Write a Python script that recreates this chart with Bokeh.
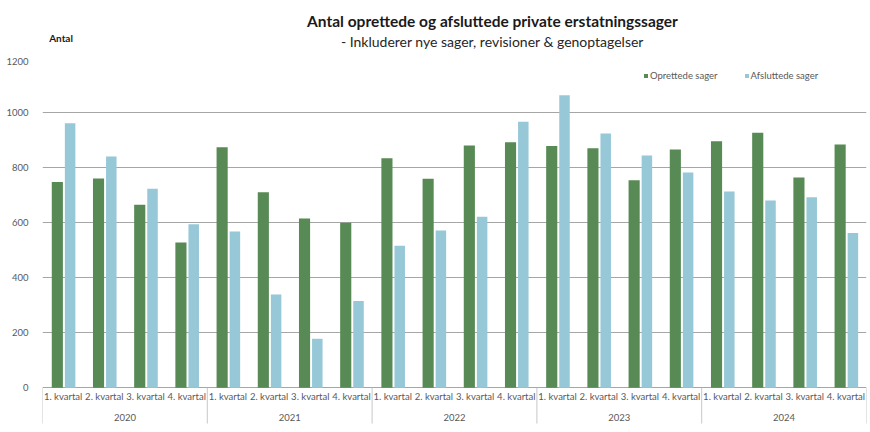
from bokeh.plotting import figure
from bokeh.layouts import column
from bokeh.models import FactorRange, Range1d, FixedTicker, ColumnDataSource
from bokeh.transform import dodge
from bokeh.core.properties import value
from bokeh.embed import file_html
from bokeh.resources import INLINE

years = ["2020", "2021", "2022", "2023", "2024"]
quarters = ["1. kvartal", "2. kvartal", "3. kvartal", "4. kvartal"]
oprettede = [748, 760, 665, 528, 874, 710, 615, 600, 834, 759, 880, 892,
             878, 870, 754, 866, 896, 927, 764, 884]
afsluttede = [961, 840, 723, 594, 568, 339, 178, 315, 516, 571, 621, 967,
              1063, 924, 844, 782, 713, 680, 692, 562]
y_ticks = [0, 200, 400, 600, 800, 1000, 1200]
title_text = "Antal oprettede og afsluttede private erstatningssager"
subtitle_text = "- Inkluderer nye sager, revisioner & genoptagelser"
y_label = "Antal"
series_names = ["Oprettede sager", "Afsluttede sager"]

FONT = "Lato"
GREEN = "#578A55"
BLUE = "#96C8D8"
GRID = "#A6A6A6"
TXT = "#595959"
DARK = "#1a1a1a"

# ---------- header (title, subtitle, y-axis caption) ----------
hdr = figure(width=868, height=57, x_range=Range1d(0, 868), y_range=Range1d(57, 0),
             output_backend="svg", toolbar_location=None, title=None,
             x_axis_location=None, y_axis_location=None, min_border=0)
hdr.outline_line_color = None
hdr.xgrid.visible = False
hdr.ygrid.visible = False
hdr.text(x=[474], y=[20], text=[title_text], text_font=value(FONT), text_font_size="15.5px",
         text_font_style="bold", text_color=DARK, text_align="center", text_baseline="middle")
hdr.text(x=[474], y=[41], text=[subtitle_text], text_font=value(FONT), text_font_size="14px",
         text_color="#262626", text_align="center", text_baseline="middle")
hdr.text(x=[7], y=[37], text=[y_label], text_font=value(FONT), text_font_size="10px",
         text_font_style="bold", text_color=DARK, text_align="left", text_baseline="middle")

# ---------- chart ----------
factors = [(y, q) for y in years for q in quarters]
src = ColumnDataSource(dict(x=factors, opr=oprettede, afs=afsluttede,
                            q=[f[1] for f in factors]))

x_range = FactorRange(*factors, factor_padding=0, group_padding=0, range_padding=0)
p = figure(width=868, height=371, x_range=x_range, y_range=Range1d(-148, 1200),
           output_backend="svg", toolbar_location=None, x_axis_location=None, title=None,
           min_border_left=42, min_border_right=2, min_border_top=0, min_border_bottom=0)
p.outline_line_color = None
p.background_fill_color = "white"

p.yaxis.ticker = FixedTicker(ticks=y_ticks)
p.yaxis.axis_line_color = None
p.yaxis.major_tick_line_color = None
p.yaxis.minor_tick_line_color = None
p.yaxis.major_label_standoff = 8
p.yaxis.major_label_text_font = FONT
p.yaxis.major_label_text_font_size = "9.5px"
p.yaxis.major_label_text_color = TXT
p.xgrid.visible = False
p.ygrid.grid_line_color = GRID
p.ygrid.grid_line_width = 1

p.vbar(x=dodge("x", -0.14, range=p.x_range), top="opr", width=0.27, source=src,
       color=GREEN, line_color=None, legend_label=series_names[0])
p.vbar(x=dodge("x", 0.17, range=p.x_range), top="afs", width=0.255, source=src,
       color=BLUE, line_color=None, legend_label=series_names[1])

# category labels
p.text(x="x", y=-30, text="q", source=src, text_font=value(FONT), text_font_size="9.5px",
       text_color=TXT, text_align="center", text_baseline="middle")
ysrc = ColumnDataSource(dict(x=years, t=years))
p.text(x="x", y=-109, text="t", source=ysrc, text_font=value(FONT), text_font_size="9.5px",
       text_color=TXT, text_align="center", text_baseline="middle")

# group dividers
dsrc = ColumnDataSource(dict(x=[(y, quarters[0]) for y in years]))
p.segment(x0=dodge("x", -0.5, range=p.x_range), y0=0, x1=dodge("x", -0.5, range=p.x_range),
          y1=-130, source=dsrc, line_color="#C8C8C8", line_width=1)
esrc = ColumnDataSource(dict(x=[(years[-1], quarters[-1])]))
p.segment(x0=dodge("x", 0.5, range=p.x_range), y0=0, x1=dodge("x", 0.5, range=p.x_range),
          y1=-130, source=esrc, line_color="#C8C8C8", line_width=1)

lg = p.legend[0]
lg.location = (601, 347)
lg.orientation = "horizontal"
lg.label_text_font = FONT
lg.label_text_font_size = "9.5px"
lg.label_text_color = TXT
lg.glyph_width = 5
lg.glyph_height = 5
lg.label_standoff = 2
lg.spacing = 26
lg.padding = 0
lg.margin = 0
lg.border_line_color = None
lg.background_fill_alpha = 0

layout = column(hdr, p, spacing=0)
open("out.html", "w").write(file_html(layout, INLINE))
